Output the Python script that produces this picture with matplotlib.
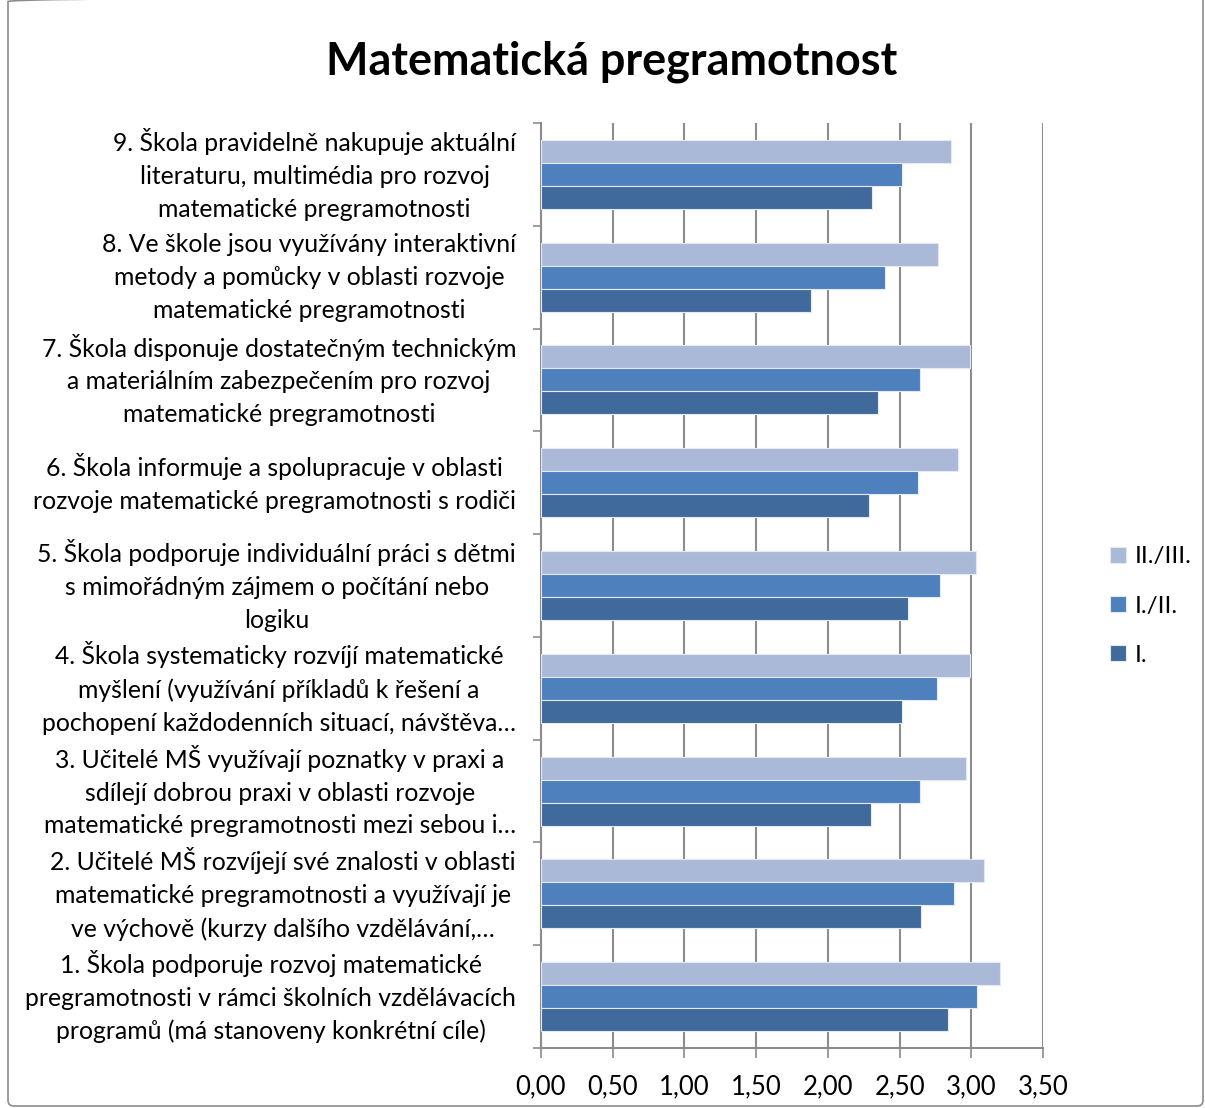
import matplotlib
matplotlib.use("Agg")
import matplotlib.pyplot as plt
import numpy as np
from matplotlib.patches import FancyBboxPatch

# categories listed bottom (1) to top (9)
labels = [
    "1. Škola podporuje rozvoj matematické\npregramotnosti v rámci školních vzdělávacích\nprogramů (má stanoveny konkrétní cíle)",
    "2. Učitelé MŠ rozvíjejí své znalosti v oblasti\nmatematické pregramotnosti a využívají je\nve výchově (kurzy dalšího vzdělávání,…",
    "3. Učitelé MŠ využívají poznatky v praxi a\nsdílejí dobrou praxi v oblasti rozvoje\nmatematické pregramotnosti mezi sebou i…",
    "4. Škola systematicky rozvíjí matematické\nmyšlení (využívání příkladů k řešení a\npochopení každodenních situací, návštěva…",
    "5. Škola podporuje individuální práci s dětmi\ns mimořádným zájmem o počítání nebo\nlogiku",
    "6. Škola informuje a spolupracuje v oblasti\nrozvoje matematické pregramotnosti s rodiči",
    "7. Škola disponuje dostatečným technickým\na materiálním zabezpečením pro rozvoj\nmatematické pregramotnosti",
    "8. Ve škole jsou využívány interaktivní\nmetody a pomůcky v oblasti rozvoje\nmatematické pregramotnosti",
    "9. Škola pravidelně nakupuje aktuální\nliteraturu, multimédia pro rozvoj\nmatematické pregramotnosti",
]
series_names = ["II./III.", "I./II.", "I."]
v_2_3 = [3.20, 3.09, 2.96, 2.99, 3.03, 2.91, 2.99, 2.77, 2.86]
v_1_2 = [3.04, 2.88, 2.64, 2.76, 2.78, 2.63, 2.64, 2.40, 2.52]
v_1 = [2.84, 2.65, 2.30, 2.52, 2.56, 2.29, 2.35, 1.88, 2.31]
xticks = [0, 0.5, 1.0, 1.5, 2.0, 2.5, 3.0, 3.5]

colors = ["#AAB9D7", "#4D80BC", "#3F6A9B"]
font = "Lato"
plt.rcParams["font.family"] = [font, "DejaVu Sans"]

fig = plt.figure(figsize=(12.05, 11.08), dpi=100)
ax = fig.add_axes([541 / 1205, 1 - 1048 / 1108, (1043 - 541) / 1205, (1048 - 123) / 1108])

y = np.arange(len(labels))
h = 0.224
for vals, off, c, name in zip([v_2_3, v_1_2, v_1], [h, 0, -h], colors, series_names):
    ax.barh(y + off, vals, height=h, color=c, edgecolor="#E4EAF3", linewidth=0.8, label=name, zorder=3)

ax.set_xlim(0, 3.5)
ax.set_ylim(-0.5, len(labels) - 0.5)
ax.set_xticks(xticks)
ax.set_xticklabels([f"{t:.2f}".replace(".", ",") for t in xticks], fontsize=18.5)
ax.grid(axis="x", color="#8C8C8C", linewidth=1.5, zorder=0)
ax.set_axisbelow(True)

ax.set_yticks(np.arange(len(labels) + 1) - 0.5)
ax.set_yticklabels([])
ax.set_yticks(y, minor=True)
ax.set_yticklabels(labels, minor=True, fontsize=17.8, multialignment="center",
                   linespacing=1.52, va="center")
ax.tick_params(axis="y", which="minor", length=0, pad=18)
ax.tick_params(axis="y", which="major", length=6, color="#8C8C8C", width=1.2)
ax.tick_params(axis="x", length=7, color="#8C8C8C", width=1.2, pad=12)

for s in ["top", "right"]:
    ax.spines[s].set_visible(False)
for s in ["left", "bottom"]:
    ax.spines[s].set_color("#8C8C8C")
    ax.spines[s].set_linewidth(1.5)

fig.text(612 / 1205, 1 - 62 / 1108, "Matematická pregramotnost", ha="center", va="center",
         fontsize=32.4, fontweight="bold")

handles, lbls = ax.get_legend_handles_labels()
leg = fig.legend(handles, lbls, loc="center left", bbox_to_anchor=(1088 / 1205, 1 - 606 / 1108),
                 frameon=False, fontsize=17.6, handlelength=0.65, handleheight=0.65,
                 labelspacing=1.15, handletextpad=0.35)

fig.patches.append(FancyBboxPatch((8 / 1205, 2 / 1108), 1195 / 1205, 1110 / 1108,
                                  boxstyle="round,pad=0,rounding_size=0.005",
                                  transform=fig.transFigure, fill=False,
                                  edgecolor="#8C8C8C", linewidth=1.2))

fig.savefig("out.png", dpi=100)
